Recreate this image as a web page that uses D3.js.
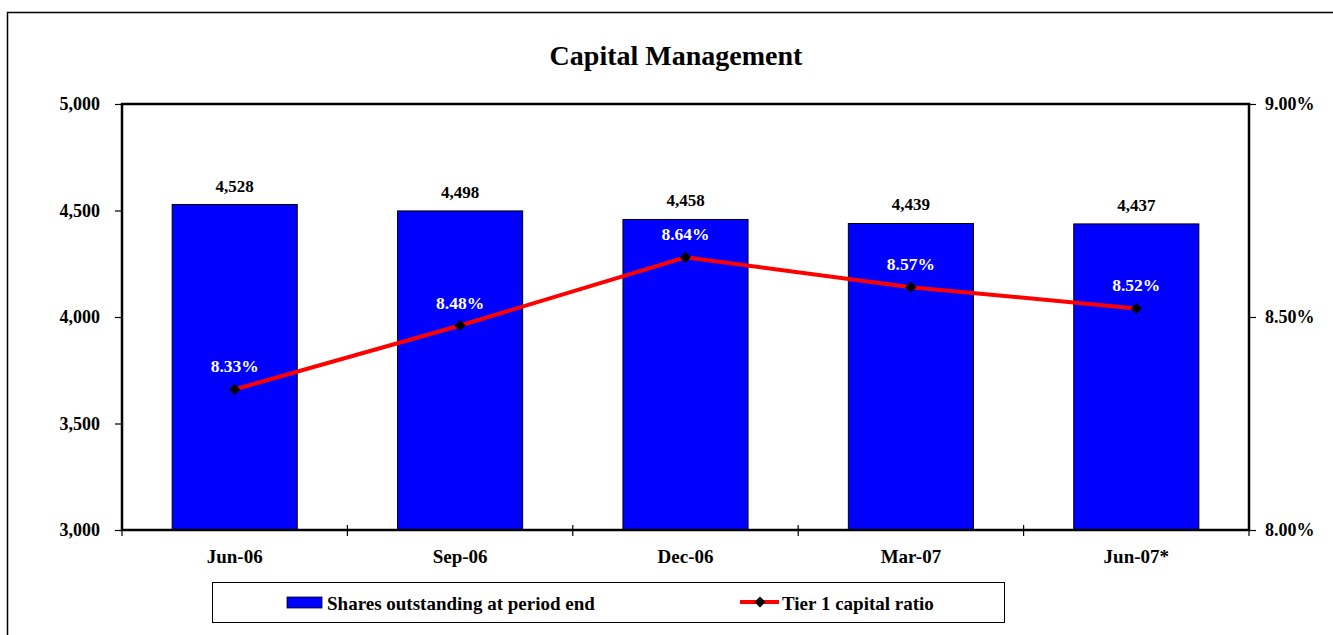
<!DOCTYPE html>
<html>
<head>
<meta charset="utf-8">
<script src="https://cdn.jsdelivr.net/npm/d3@7"></script>
<style>
  body { margin: 0; background: #fff; }
  svg text { font-family: "Liberation Serif", "Times New Roman", serif; font-weight: bold; }
</style>
</head>
<body>
<svg width="1333" height="635"></svg>
<script>
const periods = ["Jun-06", "Sep-06", "Dec-06", "Mar-07", "Jun-07*"];
const shares = [4528, 4498, 4458, 4439, 4437];
const tier1 = [8.33, 8.48, 8.64, 8.57, 8.52];
const leftTicks = [3000, 3500, 4000, 4500, 5000];
const rightTicks = [8.0, 8.5, 9.0];

const svg = d3.select('svg');
const margin = { top: 104, right: 84, bottom: 105, left: 122 };
const width = +svg.attr('width');
const height = +svg.attr('height');
const x0 = margin.left, x1 = width - margin.right;
const y0 = height - margin.bottom, y1 = margin.top;

// outer chart border (runs off the page on right and bottom)
svg.append('rect')
    .attr('x', 7.5).attr('y', 12.5)
    .attr('width', 1400).attr('height', 700)
    .attr('fill', 'none').attr('stroke', '#000').attr('stroke-width', 1.5);

svg.append('text')
    .attr('x', 676).attr('y', 65)
    .attr('text-anchor', 'middle')
    .attr('font-size', 28)
    .text('Capital Management');

const xScale = d3.scaleBand()
    .domain(periods)
    .range([x0, x1])
    .paddingInner(0.445)
    .paddingOuter(0.2225);

const band = d3.scaleBand().domain(periods).range([x0, x1]);

const yLeft = d3.scaleLinear().domain([3000, 5000]).range([y0, y1]);
const yRight = d3.scaleLinear().domain([8.0, 9.0]).range([y0, y1]);

// bars
svg.append('g')
    .selectAll('rect')
    .data(periods)
    .join('rect')
        .attr('x', d => xScale(d))
        .attr('y', (d, i) => yLeft(shares[i]))
        .attr('width', xScale.bandwidth())
        .attr('height', (d, i) => yLeft(3000) - yLeft(shares[i]))
        .attr('fill', '#0000ff')
        .attr('stroke', '#000')
        .attr('stroke-width', 1);

// bar labels
svg.append('g')
    .selectAll('text')
    .data(periods)
    .join('text')
        .attr('x', d => xScale(d) + xScale.bandwidth() / 2)
        .attr('y', (d, i) => yLeft(shares[i]) - 13)
        .attr('text-anchor', 'middle')
        .attr('font-size', 17)
        .text((d, i) => d3.format(',')(shares[i]));

// plot frame
svg.append('rect')
    .attr('x', x0).attr('y', y1)
    .attr('width', x1 - x0).attr('height', y0 - y1)
    .attr('fill', 'none').attr('stroke', '#000').attr('stroke-width', 2.5);

// axes
const leftAxis = svg.append('g')
    .attr('transform', `translate(${x0},0)`)
    .call(d3.axisLeft(yLeft).tickValues(leftTicks).tickFormat(d3.format(',')).tickSize(7).tickPadding(15));
const rightAxis = svg.append('g')
    .attr('transform', `translate(${x1},0)`)
    .call(d3.axisRight(yRight).tickValues(rightTicks).tickFormat(d => d.toFixed(2) + '%').tickSize(7).tickPadding(9));
const bottomAxis = svg.append('g')
    .attr('transform', `translate(0,${y0})`)
    .call(d3.axisBottom(band).tickSize(0).tickPadding(20));

[leftAxis, rightAxis].forEach(g => {
    g.select('.domain').remove();
    g.selectAll('text').attr('font-size', 18).attr('fill', '#000')
        .attr('font-family', '"Liberation Serif", "Times New Roman", serif').attr('font-weight', 'bold');
    g.selectAll('line').attr('stroke', '#000').attr('stroke-width', 1.2);
});
bottomAxis.select('.domain').remove();
bottomAxis.selectAll('text').attr('font-size', 19).attr('fill', '#000')
    .attr('font-family', '"Liberation Serif", "Times New Roman", serif').attr('font-weight', 'bold');

// category separators on x axis
const sepX = periods.map(p => band(p)).concat([x1]);
svg.append('g')
    .selectAll('line')
    .data(sepX)
    .join('line')
        .attr('x1', d => d).attr('x2', d => d)
        .attr('y1', y0 - 5).attr('y2', y0 + 6)
        .attr('stroke', '#000').attr('stroke-width', 1.2);

// tier 1 line
const cx = d => band(d) + band.bandwidth() / 2;
const line = d3.line()
    .x(d => cx(d))
    .y((d, i) => yRight(tier1[i]));
svg.append('path')
    .datum(periods)
    .attr('d', line)
    .attr('fill', 'none')
    .attr('stroke', '#ff0000')
    .attr('stroke-width', 4);

const diamond = d3.symbol().type(d3.symbolDiamond2).size(80);
svg.append('g')
    .selectAll('path')
    .data(periods)
    .join('path')
        .attr('d', diamond)
        .attr('transform', (d, i) => `translate(${cx(d)},${yRight(tier1[i])})`)
        .attr('fill', '#000');

svg.append('g')
    .selectAll('text')
    .data(periods)
    .join('text')
        .attr('x', d => cx(d))
        .attr('y', (d, i) => yRight(tier1[i]) - 17)
        .attr('text-anchor', 'middle')
        .attr('font-size', 17.5)
        .attr('fill', '#fff')
        .text((d, i) => tier1[i].toFixed(2) + '%');

// legend
const legend = svg.append('g');
legend.append('rect')
    .attr('x', 212.5).attr('y', 582.5)
    .attr('width', 792).attr('height', 40)
    .attr('fill', '#fff').attr('stroke', '#000').attr('stroke-width', 1);
legend.append('rect')
    .attr('x', 287).attr('y', 597)
    .attr('width', 35).attr('height', 11)
    .attr('fill', '#0000ff').attr('stroke', '#000').attr('stroke-width', 0.8);
legend.append('text')
    .attr('x', 327).attr('y', 610)
    .attr('font-size', 19)
    .text('Shares outstanding at period end');
legend.append('line')
    .attr('x1', 740).attr('x2', 779)
    .attr('y1', 602).attr('y2', 602)
    .attr('stroke', '#ff0000').attr('stroke-width', 4);
legend.append('path')
    .attr('d', diamond)
    .attr('transform', 'translate(760,602)')
    .attr('fill', '#000');
legend.append('text')
    .attr('x', 782).attr('y', 610)
    .attr('font-size', 19)
    .text('Tier 1 capital ratio');
</script>
</body>
</html>
